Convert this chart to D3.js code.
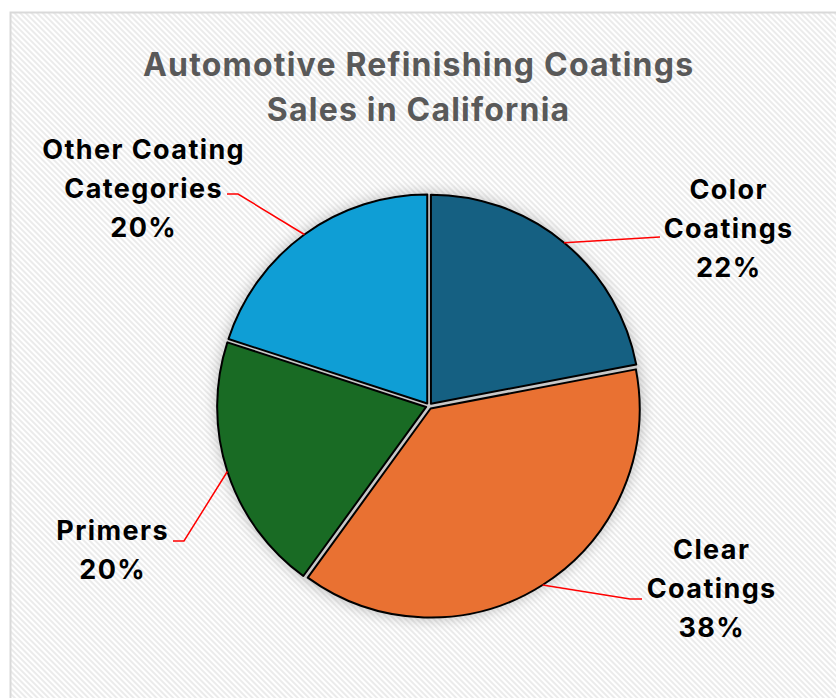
<!DOCTYPE html>
<html><head><meta charset="utf-8">
<script src="https://cdn.jsdelivr.net/npm/d3@7"></script>
<style>body{margin:0;background:#fff;}svg{display:block;}</style>
</head><body>
<svg id="chart" width="836" height="698"></svg>
<script>
const titleLines = ["Automotive Refinishing Coatings", "Sales in California"];
const categories = ["Color Coatings", "Clear Coatings", "Primers", "Other Coating Categories"];
const values = [22, 38, 20, 20];
const labelLines = [["Color", "Coatings", "22%"], ["Clear", "Coatings", "38%"], ["Primers", "20%"], ["Other Coating", "Categories", "20%"]];
const colors = ["#156082", "#E97132", "#196B24", "#0F9ED5"];

const svg = d3.select("#chart");
const W = 836, H = 698;
const defs = svg.append("defs");
const pat = defs.append("pattern").attr("id", "stripes").attr("patternUnits", "userSpaceOnUse")
  .attr("width", 4).attr("height", 4).attr("patternTransform", "rotate(-45)");
pat.append("rect").attr("width", 4).attr("height", 4).attr("fill", "#ffffff");
pat.append("rect").attr("width", 2).attr("height", 4).attr("fill", "#ebebeb");
const f = defs.append("filter").attr("id", "shadow").attr("x", "-20%").attr("y", "-20%").attr("width", "140%").attr("height", "140%");
f.append("feGaussianBlur").attr("stdDeviation", 7);

svg.append("rect").attr("x", 10.5).attr("y", 12.5).attr("width", W).attr("height", H)
  .attr("fill", "url(#stripes)").attr("stroke", "#d9d9d9").attr("stroke-width", 2);

const font = "Inter, 'Open Sans', sans-serif";
svg.append("g").selectAll("text").data(titleLines).join("text")
  .attr("x", 418 + 0.6).attr("y", (d, i) => 76 + i * 45)
  .attr("text-anchor", "middle").attr("font-family", font).attr("font-weight", 700)
  .attr("font-size", 32).attr("letter-spacing", 1.2).attr("fill", "#595959").text(d => d);

const cx = 429, cy = 406, R = 209;
const pie = d3.pie().sort(null).value(d => d)(values);
const arc = d3.arc().innerRadius(0).outerRadius(R);
const g = svg.append("g").attr("transform", `translate(${cx},${cy})`);

g.append("circle").attr("r", R + 4).attr("fill", "#8a8a8a").attr("opacity", 0.55).attr("filter", "url(#shadow)");
g.append("circle").attr("r", R + 3).attr("fill", "#c8c8c8");

const off = 3;
g.selectAll("path.slice").data(pie).join("path").attr("class", "slice")
  .attr("transform", d => { const a = (d.startAngle + d.endAngle) / 2; return `translate(${Math.sin(a) * off},${-Math.cos(a) * off})`; })
  .attr("d", arc).attr("fill", (d, i) => colors[i]).attr("stroke", "#000").attr("stroke-width", 2).attr("stroke-linejoin", "round");

// label layout: anchor (label center x, first baseline y), leader end points (absolute)
const labelPos = [
  {x: 728, y: 199, pts: [[660, 237]]},
  {x: 711, y: 559, pts: [[630, 599], [642, 599]]},
  {x: 112, y: 540, pts: [[184, 541], [173, 541]]},
  {x: 143, y: 159, pts: [[238, 194], [227, 194]]}
];
pie.forEach((d, i) => {
  const a = (d.startAngle + d.endAngle) / 2;
  const sx = cx + Math.sin(a) * (R + off), sy = cy - Math.cos(a) * (R + off);
  const pts = [[sx, sy]].concat(labelPos[i].pts);
  svg.append("path").attr("d", d3.line()(pts)).attr("fill", "none").attr("stroke", "#ff0000").attr("stroke-width", 1.5);
  svg.append("g").selectAll("text").data(labelLines[i]).join("text")
    .attr("x", labelPos[i].x + 0.7).attr("y", (t, j) => labelPos[i].y + j * 39)
    .attr("text-anchor", "middle").attr("font-family", font).attr("font-weight", 700)
    .attr("font-size", 27).attr("letter-spacing", 1.4).attr("fill", "#000").text(t => t);
});
</script>
</body></html>
